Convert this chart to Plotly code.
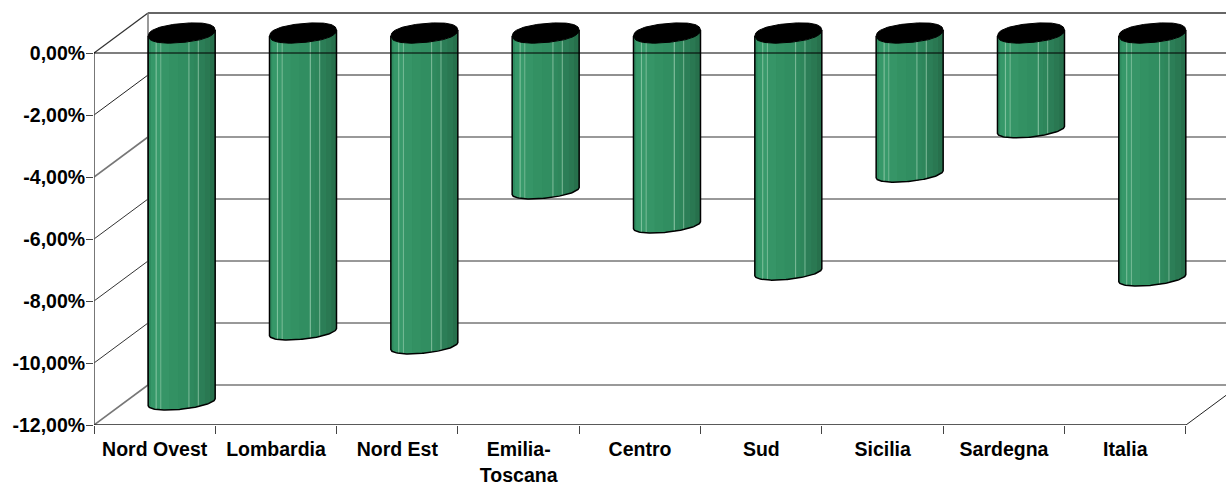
import numpy as np
import plotly.graph_objects as go

# Regional change, percent
categories = ["Nord Ovest", "Lombardia", "Nord Est", "Emilia-<br>Toscana", "Centro",
              "Sud", "Sicilia", "Sardegna", "Italia"]
values = [-11.91, -9.65, -10.10, -5.10, -6.20, -7.72, -4.56, -3.13, -7.91]
y_ticks = [0, -2, -4, -6, -8, -10, -12]
y_labels = ["0,00%", "-2,00%", "-4,00%", "-6,00%", "-8,00%", "-10,00%", "-12,00%"]

# Page geometry: one category and one percentage point, in pixels
WIDTH, HEIGHT = 1226, 485
LEFT, FLOOR = 94, 425
CAT_PX, UNIT_PX = 121.33, 31.0

# Oblique depth of the box, in axis units
DEPTH_X, DEPTH_Y = 54 / CAT_PX, 40 / UNIT_PX
X_MAX = (WIDTH - LEFT) / CAT_PX
Y_MAX = FLOOR / UNIT_PX - 12
N_CAT = len(categories)

# Cylinder proportions
RX = 33.5 / CAT_PX
TOP_B, TOP_TILT = 9.5 / UNIT_PX, 3.0 / UNIT_PX
BOT_B, BOT_TILT = 7.0 / UNIT_PX, 3.5 / UNIT_PX
CAP_POWER = 2.3

# Vertical facets across a cylinder: right edge as a fraction of width, and colour
facets = [
    (0.04, "#2f8c60"), (0.11, "#369869"), (0.13, "#7cc19c"), (0.18, "#389a6b"),
    (0.20, "#70b892"), (0.32, "#369567"), (0.45, "#339163"), (0.60, "#318e61"),
    (0.62, "#78b896"), (0.68, "#2f895e"), (0.74, "#2e865b"), (0.76, "#6eae8c"),
    (0.84, "#2c7e57"), (0.92, "#2a7852"), (1.00, "#27704c"),
]


def lower_edge(x, cx, cy, b, tilt, power=2.0):
    """Front edge of a tilted ellipse at positions x."""
    u = np.clip((x - cx) / RX, -1, 1)
    return cy + tilt * u - b * (1 - np.abs(u) ** power) ** (1 / power)


def upper_edge(x, cx, cy, b, tilt, power=2.0):
    """Rear edge of a tilted ellipse at positions x."""
    u = np.clip((x - cx) / RX, -1, 1)
    return cy + tilt * u + b * (1 - np.abs(u) ** power) ** (1 / power)


def line(xs, ys, color, width):
    return go.Scatter(x=xs, y=ys, mode="lines", line=dict(color=color, width=width),
                      hoverinfo="skip", showlegend=False)


def fill_trace(xs, ys, color, outline=0):
    return go.Scatter(x=xs, y=ys, mode="lines", fill="toself", fillcolor=color,
                      line=dict(color=color, width=outline), hoverinfo="skip", showlegend=False)


fig = go.Figure()

# Back wall and left wall rules
wall_style = {0: ("#333333", 1.3), -2: ("#222222", 1.0), -4: ("#777777", 1.6),
              -6: ("#333333", 1.0), -8: ("#333333", 1.0), -10: ("#333333", 1.0),
              -12: ("#777777", 1.6)}
for t in y_ticks:
    color, w = wall_style[t]
    fig.add_trace(line([DEPTH_X, X_MAX], [t + DEPTH_Y, t + DEPTH_Y], color, w))
    fig.add_trace(line([0, DEPTH_X], [t, t + DEPTH_Y], color, w))
fig.add_trace(line([DEPTH_X, DEPTH_X], [-12 + DEPTH_Y, DEPTH_Y], "#777777", 1.5))

# Floor edges and the vertical axis
fig.add_trace(line([0, 0], [-12, 0], "#555555", 1.6))
fig.add_trace(line([N_CAT, X_MAX], [-12, -12 + DEPTH_Y * (X_MAX - N_CAT) / DEPTH_X], "#222222", 1.0))
fig.add_trace(line([0, N_CAT], [-12, -12], "#222222", 1.5))

centers = [i + 0.5 + DEPTH_X / 2 for i in range(N_CAT)]
top_y = DEPTH_Y / 2


def body_polygon(cx, v, u0, u1):
    """Side of a cylinder between two fractions of its width."""
    x = cx - RX + 2 * RX * np.linspace(u0, u1, 9)
    bottom = lower_edge(x, cx, v + DEPTH_Y / 2, BOT_B, BOT_TILT)
    top = lower_edge(x, cx, top_y, TOP_B, TOP_TILT, CAP_POWER)
    return list(x) + list(x[::-1]) + [x[0], None], list(bottom) + list(top[::-1]) + [bottom[0], None]


# An underlay keeps the joins between facets from showing the page through
xs, ys = [], []
for cx, v in zip(centers, values):
    px, py = body_polygon(cx, v, 0.0, 1.0)
    xs += px
    ys += py
fig.add_trace(fill_trace(xs, ys, "#318e61"))

# Facets of one colour share a trace
prev = 0.0
for right, color in facets:
    xs, ys = [], []
    for cx, v in zip(centers, values):
        px, py = body_polygon(cx, v, prev, right)
        xs += px
        ys += py
    fig.add_trace(fill_trace(xs, ys, color))
    prev = right

# Cylinder outlines and black caps
xs, ys, cap_x, cap_y = [], [], [], []
for cx, v in zip(centers, values):
    x = np.linspace(cx - RX, cx + RX, 61)
    xs += [x[0]] + list(x) + [x[-1], None]
    ys += [top_y - TOP_TILT] + list(lower_edge(x, cx, v + DEPTH_Y / 2, BOT_B, BOT_TILT)) + [top_y + TOP_TILT, None]
    low = lower_edge(x, cx, top_y, TOP_B, TOP_TILT, CAP_POWER)
    high = upper_edge(x, cx, top_y, TOP_B, TOP_TILT, CAP_POWER)
    cap_x += list(x) + list(x[::-1]) + [x[0], None]
    cap_y += list(low) + list(high[::-1]) + [low[0], None]
fig.add_trace(line(xs, ys, "#000000", 1.5))
fig.add_trace(fill_trace(cap_x, cap_y, "#000000", outline=1))

# The zero line runs in front of the cylinders
fig.add_trace(line([0, X_MAX], [0, 0], "#000000", 1.2))

fig.update_layout(
    width=WIDTH, height=HEIGHT, autosize=False,
    margin=dict(l=LEFT, r=0, t=0, b=HEIGHT - FLOOR, pad=0),
    paper_bgcolor="white", plot_bgcolor="white", showlegend=False,
    font=dict(family="Liberation Sans", size=19, color="#000000"),
    xaxis=dict(range=[0, X_MAX], showgrid=False, zeroline=False, showline=False, automargin=False,
               tickmode="array", tickvals=[i + 0.5 for i in range(N_CAT)], ticktext=categories,
               ticks="outside", ticklen=7, tickcolor="rgba(0,0,0,0)", tickangle=0,
               tickfont=dict(family="Liberation Sans", size=19.5, weight="bold"),
               minor=dict(tickmode="array", tickvals=list(range(N_CAT + 1)), ticks="outside",
                          ticklen=8, tickcolor="#444444", tickwidth=1, showgrid=False)),
    yaxis=dict(range=[-12, Y_MAX], showgrid=False, zeroline=False, showline=False, automargin=False,
               tickmode="array", tickvals=y_ticks, ticktext=y_labels,
               ticks="outside", ticklen=7, tickcolor="#444444", tickwidth=1, ticklabelstandoff=-3,
               tickfont=dict(family="Liberation Sans", size=19.5, weight="bold")),
)

fig.write_html("out.html", config=dict(displayModeBar=False))
